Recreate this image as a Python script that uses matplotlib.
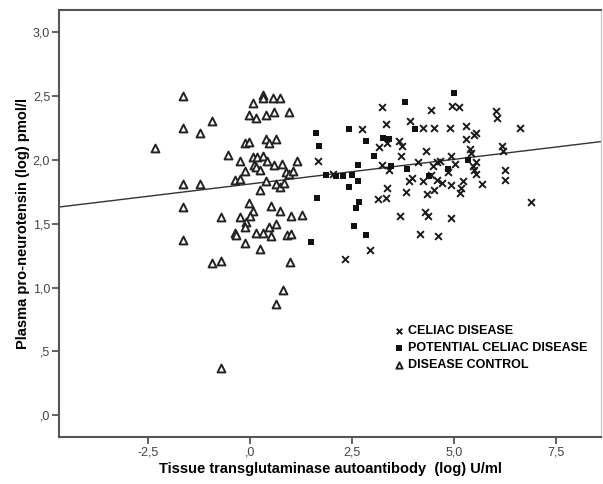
"""
Streudiagramm: Plasma pro-Neurotensin vs. tTG-Autoantikoerper (log)
mit drei Gruppen und Regressionsgerade.
"""

import matplotlib
matplotlib.use("Agg")
import matplotlib.pyplot as plt
from matplotlib.ticker import FuncFormatter

# ---------------------------
# Daten
# ---------------------------
celiac_x = [1.67, 2.04, 3.25, 4.45, 4.97, 5.12, 6.03, 6.07, 3.33, 3.92, 2.76, 4.26,
            4.52, 4.92, 5.31, 5.56, 5.51, 5.31, 3.65, 3.74, 3.16, 3.37, 4.33, 3.72,
            4.94, 5.39, 5.43, 6.63, 6.19, 6.21, 3.25, 3.41, 4.13, 4.49, 4.59, 4.66,
            5.04, 5.47, 5.56, 5.51, 5.56, 4.86, 3.99, 3.91, 4.44, 4.58, 4.26, 4.72,
            4.94, 5.23, 5.17, 5.15, 5.70, 6.25, 6.25, 3.37, 3.84, 4.35, 4.52, 3.35,
            3.15, 4.29, 4.36, 3.69, 4.94, 4.17, 4.62, 2.96, 2.33, 6.89]
celiac_y = [1.99, 1.89, 2.41, 2.39, 2.42, 2.41, 2.38, 2.33, 2.28, 2.30, 2.24, 2.25,
            2.25, 2.25, 2.26, 2.21, 2.19, 2.16, 2.15, 2.11, 2.10, 2.13, 2.07, 2.03,
            2.03, 2.08, 2.05, 2.25, 2.11, 2.07, 1.96, 1.92, 1.98, 1.95, 1.98, 1.99,
            1.97, 1.95, 1.98, 1.92, 1.89, 1.90, 1.86, 1.83, 1.88, 1.84, 1.83, 1.82,
            1.80, 1.83, 1.78, 1.74, 1.81, 1.92, 1.84, 1.78, 1.75, 1.73, 1.76, 1.70,
            1.69, 1.59, 1.56, 1.56, 1.54, 1.42, 1.40, 1.29, 1.22, 1.67]

potential_x = [5.02, 3.80, 2.43, 1.62, 1.70, 4.04, 2.84, 3.27, 3.41, 3.04, 2.66, 3.47,
               3.86, 4.85, 1.86, 2.12, 2.29, 2.51, 4.39, 2.66, 2.43, 5.35, 1.65, 2.68,
               2.60, 2.56, 2.84, 1.51]
potential_y = [2.52, 2.45, 2.24, 2.21, 2.11, 2.24, 2.15, 2.17, 2.16, 2.03, 1.96, 1.95,
               1.93, 1.93, 1.88, 1.87, 1.87, 1.88, 1.87, 1.83, 1.79, 2.00, 1.70, 1.67,
               1.62, 1.48, 1.41, 1.36]

control_x = [-1.63, 0.33, 0.33, 0.08, 0.57, 0.74, -0.94, -1.63, -1.23, -0.02, 0.16, 0.39,
             0.59, 0.95, -0.12, -0.02, 0.39, 0.47, 0.64, -2.33, -0.53, -0.23, 0.08, 0.18,
             0.33, 0.41, 0.10, 0.14, 0.25, 0.59, 0.78, 1.16, -0.12, 0.88, 0.96, 1.05,
             -0.37, -0.23, -1.63, -1.23, 0.39, 0.65, 0.75, 0.83, 0.26, -1.63, -0.02, 0.53,
             0.08, 0.74, -0.71, -0.23, 0.00, -0.10, 1.02, 1.27, 0.63, 0.47, -0.12, -0.37,
             -0.34, 0.16, 0.33, 0.53, 0.90, 1.00, -1.63, -0.12, 0.25, -0.94, -0.71, 0.98,
             0.82, 0.63, -0.71]
control_y = [2.50, 2.51, 2.48, 2.44, 2.48, 2.48, 2.30, 2.25, 2.21, 2.35, 2.33, 2.35,
             2.37, 2.37, 2.13, 2.14, 2.16, 2.13, 2.16, 2.09, 2.04, 1.99, 2.02, 2.02,
             2.03, 1.99, 1.96, 1.94, 1.92, 1.96, 1.97, 1.99, 1.91, 1.90, 1.89, 1.91,
             1.84, 1.85, 1.81, 1.81, 1.83, 1.81, 1.79, 1.82, 1.76, 1.63, 1.66, 1.64,
             1.60, 1.60, 1.55, 1.55, 1.56, 1.51, 1.56, 1.57, 1.50, 1.47, 1.47, 1.43,
             1.41, 1.43, 1.43, 1.40, 1.41, 1.42, 1.37, 1.35, 1.30, 1.19, 1.21, 1.20,
             0.98, 0.87, 0.37]

# Regressionsgerade
fit_intercept = 1.81
fit_slope = 0.0385

x_ticks = [-2.5, 0.0, 2.5, 5.0, 7.5]
y_ticks = [0.0, 0.5, 1.0, 1.5, 2.0, 2.5, 3.0]
x_lim = (-4.68, 8.62)
y_lim = (-0.17, 3.17)

# ---------------------------
# Diagrammerstellung
# ---------------------------
plt.rcParams['font.family'] = ['Liberation Sans', 'DejaVu Sans']

fig = plt.figure(figsize=(6.03, 4.84), dpi=100)
ax = fig.add_axes([0.098, 0.097, 0.899, 0.882])

frame_col = '#555555'

ax.plot(x_lim, [fit_intercept + fit_slope * x for x in x_lim],
        '-', color='#333333', linewidth=1.0, zorder=1)

ax.scatter(celiac_x, celiac_y, marker='x', s=24, color='#1a1a1a',
           linewidths=1.4, label='CELIAC DISEASE', zorder=3)
ax.scatter(potential_x, potential_y, marker='s', s=24, color='#111111',
           linewidths=0, label='POTENTIAL CELIAC DISEASE', zorder=3)
ax.scatter(control_x, control_y, marker='^', s=32, facecolors='white',
           edgecolors='#222222', linewidths=1.4, label='DISEASE CONTROL', zorder=2)

ax.set_xlim(*x_lim)
ax.set_ylim(*y_lim)
ax.set_xticks(x_ticks)
ax.set_yticks(y_ticks)


def komma(v, pos):
    s = f'{v:.1f}'.replace('.', ',')
    if s.startswith('0,'):
        s = s[1:]
    return s


ax.xaxis.set_major_formatter(FuncFormatter(komma))
ax.yaxis.set_major_formatter(FuncFormatter(komma))
ax.tick_params(direction='out', length=5, width=1.3, color=frame_col,
               labelsize=9, labelcolor='#444444', pad=1.5)
ax.tick_params(top=False, right=False)

for sp in ax.spines.values():
    sp.set_color(frame_col)
    sp.set_linewidth(1.5)
ax.spines['right'].set_color('#cccccc')
ax.spines['right'].set_linewidth(1.0)

ax.set_xlabel('Tissue transglutaminase autoantibody  (log) U/ml',
              fontsize=10.5, fontweight='bold', labelpad=3)
ax.set_ylabel('Plasma pro-neurotensin (log) pmol/l',
              fontsize=10.5, fontweight='bold', labelpad=2)

leg = ax.legend(loc='upper left', bbox_to_anchor=(0.6, 0.283), frameon=False,
                handletextpad=0.2, labelspacing=0.42, handlelength=1.0,
                borderpad=0.2, markerscale=0.8,
                prop={'weight': 'bold', 'size': 9})

fig.savefig('out.png', dpi=100)
